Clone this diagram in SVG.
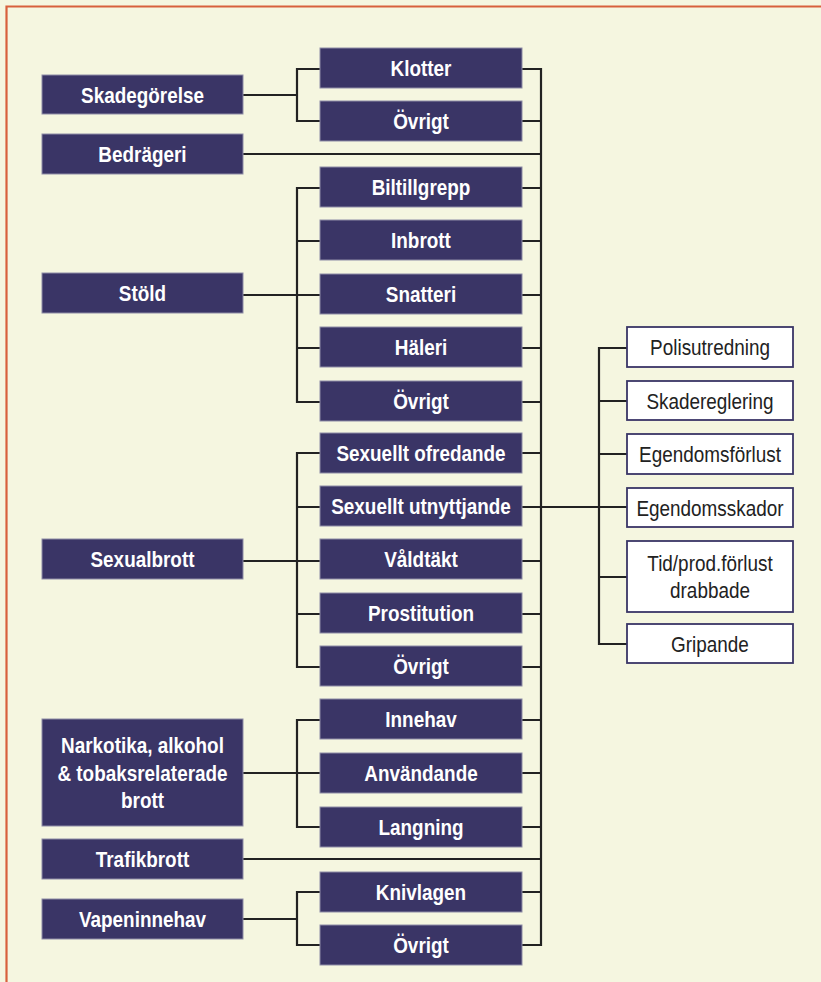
<svg xmlns="http://www.w3.org/2000/svg" width="821" height="982" viewBox="0 0 821 982">
<style>
.bg{fill:#f5f6e0}
.frame{fill:none;stroke:#d8603c;stroke-width:2.2}
.d{fill:#3a3566;stroke:#8e8ca6;stroke-width:1}
.w{fill:#ffffff;stroke:#3a3566;stroke-width:1.8}
.tl{font-family:"Liberation Sans",Arial,Helvetica,sans-serif;font-size:22px;font-weight:bold;fill:#ffffff;text-anchor:middle}
.tr{font-family:"Liberation Sans",Arial,Helvetica,sans-serif;font-size:22px;fill:#222222;text-anchor:middle}
.c{fill:none;stroke:#222222;stroke-width:2.2}
</style>
<rect class="bg" x="0" y="0" width="821" height="982"/>
<path class="frame" d="M6.5,990 V6.5 H830"/>
<g id="connectors">
<path class="c" d="M243,95 H297 M320,69 H297 V121 H320"/>
<path class="c" d="M243,154 H541"/>
<path class="c" d="M243,295 H320 M320,188 H297 V402 H320 M297,241 H320 M297,348 H320"/>
<path class="c" d="M243,561 H320 M320,453 H297 V667 H320 M297,507 H320 M297,614 H320"/>
<path class="c" d="M243,773 H320 M320,720 H297 V827 H320"/>
<path class="c" d="M243,859 H541"/>
<path class="c" d="M243,919 H297 M320,892 H297 V945 H320"/>
<path class="c" d="M522,69 H541 V945 H522 M522,121 H541 M522,188 H541 M522,241 H541 M522,295 H541 M522,348 H541 M522,402 H541 M522,453 H541 M522,507 H541 M522,561 H541 M522,614 H541 M522,667 H541 M522,720 H541 M522,773 H541 M522,827 H541 M522,892 H541"/>
<path class="c" d="M541,507 H599 M627,348 H599 V644 H627 M599,401 H627 M599,454 H627 M599,507 H627 M599,577 H627"/>
</g>
<g id="skadegorelse"><rect class="d" x="42" y="75" width="201" height="39"/><text class="tl" transform="translate(142.5,102.5) scale(0.86,1)">Skadegörelse</text></g>
<g id="bedrageri"><rect class="d" x="42" y="134" width="201" height="40"/><text class="tl" transform="translate(142.5,162) scale(0.86,1)">Bedrägeri</text></g>
<g id="stold"><rect class="d" x="42" y="273" width="201" height="40"/><text class="tl" transform="translate(142.5,301) scale(0.86,1)">Stöld</text></g>
<g id="sexualbrott"><rect class="d" x="42" y="539" width="201" height="40"/><text class="tl" transform="translate(142.5,567) scale(0.86,1)">Sexualbrott</text></g>
<g id="narkotika"><rect class="d" x="42" y="719" width="201" height="107"/>
<text class="tl" transform="translate(142.5,753) scale(0.86,1)">Narkotika, alkohol</text>
<text class="tl" transform="translate(142.5,781) scale(0.86,1)">&amp; tobaksrelaterade</text>
<text class="tl" transform="translate(142.5,808) scale(0.86,1)">brott</text></g>
<g id="trafikbrott"><rect class="d" x="42" y="839" width="201" height="40"/><text class="tl" transform="translate(142.5,867) scale(0.86,1)">Trafikbrott</text></g>
<g id="vapeninnehav"><rect class="d" x="42" y="899" width="201" height="40"/><text class="tl" transform="translate(142.5,927) scale(0.86,1)">Vapeninnehav</text></g>

<g id="klotter"><rect class="d" x="320" y="48" width="202" height="40"/><text class="tl" transform="translate(421,76) scale(0.86,1)">Klotter</text></g>
<g id="ovrigt1"><rect class="d" x="320" y="101" width="202" height="40"/><text class="tl" transform="translate(421,129) scale(0.86,1)">Övrigt</text></g>
<g id="biltillgrepp"><rect class="d" x="320" y="167" width="202" height="40"/><text class="tl" transform="translate(421,195) scale(0.86,1)">Biltillgrepp</text></g>
<g id="inbrott"><rect class="d" x="320" y="220" width="202" height="40"/><text class="tl" transform="translate(421,248) scale(0.86,1)">Inbrott</text></g>
<g id="snatteri"><rect class="d" x="320" y="274" width="202" height="40"/><text class="tl" transform="translate(421,302) scale(0.86,1)">Snatteri</text></g>
<g id="haleri"><rect class="d" x="320" y="327" width="202" height="40"/><text class="tl" transform="translate(421,355) scale(0.86,1)">Häleri</text></g>
<g id="ovrigt2"><rect class="d" x="320" y="381" width="202" height="40"/><text class="tl" transform="translate(421,409) scale(0.86,1)">Övrigt</text></g>
<g id="sex-ofredande"><rect class="d" x="320" y="433" width="202" height="40"/><text class="tl" transform="translate(421,461) scale(0.86,1)">Sexuellt ofredande</text></g>
<g id="sex-utnyttjande"><rect class="d" x="320" y="486" width="202" height="40"/><text class="tl" transform="translate(421,514) scale(0.86,1)">Sexuellt utnyttjande</text></g>
<g id="valdtakt"><rect class="d" x="320" y="539" width="202" height="40"/><text class="tl" transform="translate(421,567) scale(0.86,1)">Våldtäkt</text></g>
<g id="prostitution"><rect class="d" x="320" y="593" width="202" height="40"/><text class="tl" transform="translate(421,621) scale(0.86,1)">Prostitution</text></g>
<g id="ovrigt3"><rect class="d" x="320" y="646" width="202" height="40"/><text class="tl" transform="translate(421,674) scale(0.86,1)">Övrigt</text></g>
<g id="innehav"><rect class="d" x="320" y="699" width="202" height="40"/><text class="tl" transform="translate(421,727) scale(0.86,1)">Innehav</text></g>
<g id="anvandande"><rect class="d" x="320" y="753" width="202" height="40"/><text class="tl" transform="translate(421,781) scale(0.86,1)">Användande</text></g>
<g id="langning"><rect class="d" x="320" y="807" width="202" height="40"/><text class="tl" transform="translate(421,835) scale(0.86,1)">Langning</text></g>
<g id="knivlagen"><rect class="d" x="320" y="872" width="202" height="40"/><text class="tl" transform="translate(421,900) scale(0.86,1)">Knivlagen</text></g>
<g id="ovrigt4"><rect class="d" x="320" y="925" width="202" height="40"/><text class="tl" transform="translate(421,953) scale(0.86,1)">Övrigt</text></g>

<g id="polisutredning"><rect class="w" x="627" y="327" width="166" height="40"/><text class="tr" transform="translate(710,355) scale(0.86,1)">Polisutredning</text></g>
<g id="skadereglering"><rect class="w" x="627" y="381" width="166" height="39"/><text class="tr" transform="translate(710,408.5) scale(0.86,1)">Skadereglering</text></g>
<g id="egendomsforlust"><rect class="w" x="627" y="434" width="166" height="40"/><text class="tr" transform="translate(710,462) scale(0.86,1)">Egendomsförlust</text></g>
<g id="egendomsskador"><rect class="w" x="627" y="488" width="166" height="39"/><text class="tr" transform="translate(710,515.5) scale(0.86,1)">Egendomsskador</text></g>
<g id="tidprod"><rect class="w" x="627" y="541" width="166" height="71"/>
<text class="tr" transform="translate(710,571) scale(0.86,1)">Tid/prod.förlust</text>
<text class="tr" transform="translate(710,598) scale(0.86,1)">drabbade</text></g>
<g id="gripande"><rect class="w" x="627" y="624" width="166" height="39"/><text class="tr" transform="translate(710,651.5) scale(0.86,1)">Gripande</text></g>
</svg>
